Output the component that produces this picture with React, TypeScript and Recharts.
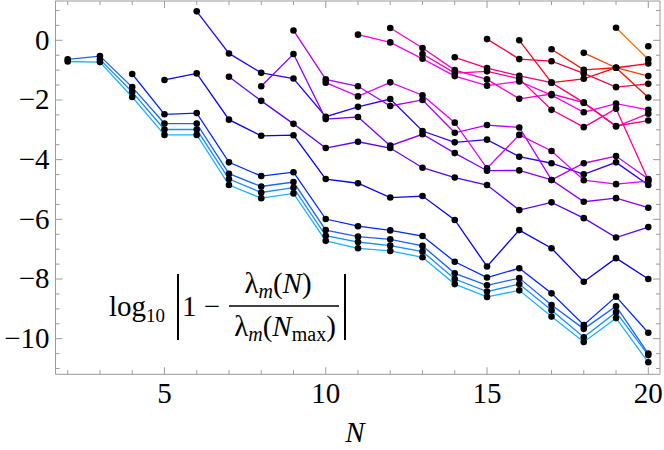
import React from 'react'
import { LineChart, Line, XAxis, YAxis } from 'recharts'

// N = 2 .. 20, one slot per N (null = eigenvalue not present yet)
const N_VALUES = [2, 3, 4, 5, 6, 7, 8, 9, 10, 11, 12, 13, 14, 15, 16, 17, 18, 19, 20]

const S1 = [-0.71, -0.73, -1.9, -3.17, -3.17, -4.85, -5.29, -5.13, -6.72, -6.97, -7.06, -7.27, -8.17, -8.6, -8.38, -9.26, -10.11, -9.31, -10.79]
const S2 = [null, -0.64, -1.73, -2.99, -2.99, -4.65, -5.1, -4.94, -6.55, -6.76, -6.88, -7.08, -8.0, -8.42, -8.17, -9.05, -9.95, -9.11, -10.55]
const S3 = [-0.64, -0.53, -1.57, -2.79, -2.79, -4.47, -4.9, -4.75, -6.36, -6.58, -6.67, -6.89, -7.81, -8.21, -7.97, -8.87, -9.67, -8.91, -10.5]
const S4 = [null, null, -1.13, -2.48, -2.44, -4.09, -4.55, -4.42, -5.99, -6.23, -6.37, -6.56, -7.42, -7.95, -7.64, -8.48, -9.54, -8.59, -9.8]
const S5 = [null, null, null, -1.33, -1.11, -2.66, -3.2, -3.18, -4.65, -4.79, -5.27, -5.22, -6.02, -7.58, -6.36, -6.97, -8.09, -7.3, -8.0]
const S6 = [null, null, null, null, 0.97, -0.44, -1.09, -1.28, -2.56, -2.23, -1.97, -3.04, -3.42, -3.33, -3.9, -4.12, -4.49, -4.09, -4.85]
const S7 = [null, null, null, null, null, -1.22, -2.03, -2.8, -3.61, -3.4, -3.61, -4.27, -4.6, -4.85, -5.69, -5.43, -5.96, -6.61, -6.26]
const S8 = [null, null, null, null, null, null, -1.54, -0.46, -2.64, -2.57, -3.53, -3.15, -3.78, -4.37, -4.36, -4.68, -5.41, -5.29, -5.61]
const S9 = [null, null, null, null, null, null, null, 0.33, -1.31, -1.54, -2.2, -2.0, -3.1, -2.84, -2.92, -4.68, -4.12, -3.88, -4.65]
const S10 = [null, null, null, null, null, null, null, null, -1.42, -1.88, -1.41, -1.84, -2.76, -4.29, -3.17, -3.71, -4.69, -4.82, -4.72]
const S11 = [null, null, null, null, null, null, null, null, null, 0.19, -0.07, -0.62, -1.2, -1.52, -1.38, -1.84, -2.41, -2.12, -2.33]
const S12 = [null, null, null, null, null, null, null, null, null, null, 0.41, -0.26, -1.0, -1.31, -1.96, -1.8, -2.09, -2.89, -2.46]
const S13 = [null, null, null, null, null, null, null, null, null, null, null, -0.46, -1.1, -1.04, -1.29, -2.33, -2.91, -2.29, -4.68]
const S14 = [null, null, null, null, null, null, null, null, null, null, null, null, -0.57, -0.93, -1.19, -1.42, -2.09, -2.87, -2.69]
const S15 = [null, null, null, null, null, null, null, null, null, null, null, null, null, 0.04, -0.63, -0.7, -1.11, -1.57, -1.46]
const S16 = [null, null, null, null, null, null, null, null, null, null, null, null, null, null, 0.0, -1.42, -1.29, -0.92, -0.78]
const S17 = [null, null, null, null, null, null, null, null, null, null, null, null, null, null, null, -0.3, -0.99, -0.92, -1.92]
const S18 = [null, null, null, null, null, null, null, null, null, null, null, null, null, null, null, null, -0.42, -0.92, -1.2]
const S19 = [null, null, null, null, null, null, null, null, null, null, null, null, null, null, null, null, null, 0.42, -0.64]
const S20 = [null, null, null, null, null, null, null, null, null, null, null, null, null, null, null, null, null, null, -0.2]

const SERIES = [S1, S2, S3, S4, S5, S6, S7, S8, S9, S10, S11, S12, S13, S14, S15, S16, S17, S18, S19, S20]

const X_TICKS = [2, 3, 4, 5, 6, 7, 8, 9, 10, 11, 12, 13, 14, 15, 16, 17, 18, 19, 20]
const X_LABELS = [5, 10, 15, 20]
const Y_TICKS = [-11, -10.5, -10, -9.5, -9, -8.5, -8, -7.5, -7, -6.5, -6, -5.5, -5, -4.5, -4, -3.5, -3, -2.5, -2, -1.5, -1, -0.5, 0, 0.5, 1]
const Y_LABELS = [-10, -8, -6, -4, -2, 0]

const FRAME = '#9a9a9a'
const SERIF = '"Liberation Serif", "Times New Roman", serif'
const FONT = 29

const rows = N_VALUES.map((n, i) => {
  const row: Record<string, number | null> = { N: n }
  SERIES.forEach((s, k) => {
    row['s' + (k + 1)] = s[i]
  })
  return row
})

// hue runs from sky blue (lowest m) through violet and magenta to orange
const seriesColor = (k: number) => {
  const h = (200 + (k * 195) / (SERIES.length - 1)) % 360
  const l = k < 3 ? 55 : 50
  return `hsl(${h}, 100%, ${l}%)`
}

const fmt = (v: number) => (v < 0 ? `\u2212${Math.abs(v)}` : `${v}`)

const BottomTick = (props: any) => {
  const { x, y, payload } = props
  const major = X_LABELS.includes(payload.value)
  return (
    <g>
      <line x1={x} x2={x} y1={y} y2={y - (major ? 7 : 4)} stroke={FRAME} />
      {major && (
        <text x={x} y={y + 29} textAnchor="middle" fontFamily={SERIF} fontSize={FONT} fill="#000">
          {payload.value}
        </text>
      )}
    </g>
  )
}

const TopTick = (props: any) => {
  const { x, y, payload } = props
  const major = X_LABELS.includes(payload.value)
  return <line x1={x} x2={x} y1={y} y2={y + (major ? 7 : 4)} stroke={FRAME} />
}

const LeftTick = (props: any) => {
  const { x, y, payload } = props
  const major = Y_LABELS.includes(payload.value)
  return (
    <g>
      <line x1={x} x2={x + (major ? 7 : 4)} y1={y} y2={y} stroke={FRAME} />
      {major && (
        <text x={x - 6} y={y} dy="0.32em" textAnchor="end" fontFamily={SERIF} fontSize={FONT} fill="#000">
          {fmt(payload.value)}
        </text>
      )}
    </g>
  )
}

const RightTick = (props: any) => {
  const { x, y, payload } = props
  const major = Y_LABELS.includes(payload.value)
  return <line x1={x} x2={x - (major ? 7 : 4)} y1={y} y2={y} stroke={FRAME} />
}

export default function App() {
  return (
    <div style={{ position: 'absolute', left: 0, top: 0, width: 664, height: 450, background: '#fff' }}>
      <LineChart width={664} height={450} data={rows} margin={{ top: 0, right: 3, bottom: 0, left: 0 }}>
        <XAxis
          xAxisId="bottom"
          dataKey="N"
          type="number"
          domain={[1.622, 20.363]}
          allowDataOverflow
          ticks={X_TICKS}
          interval={0}
          height={75.7}
          tickSize={0}
          tickMargin={0}
          tickLine={false}
          axisLine={{ stroke: FRAME }}
          tick={(p: any) => <BottomTick {...p} />}
        />
        <XAxis
          xAxisId="top"
          orientation="top"
          dataKey="N"
          type="number"
          domain={[1.622, 20.363]}
          allowDataOverflow
          ticks={X_TICKS}
          interval={0}
          height={1}
          tickSize={0}
          tickMargin={0}
          tickLine={false}
          axisLine={{ stroke: FRAME }}
          tick={(p: any) => <TopTick {...p} />}
        />
        <YAxis
          yAxisId="left"
          type="number"
          domain={[-11.193, 1.317]}
          allowDataOverflow
          ticks={Y_TICKS}
          interval={0}
          width={55.5}
          tickSize={0}
          tickMargin={0}
          tickLine={false}
          axisLine={{ stroke: FRAME }}
          tick={(p: any) => <LeftTick {...p} />}
        />
        <YAxis
          yAxisId="right"
          orientation="right"
          type="number"
          domain={[-11.193, 1.317]}
          allowDataOverflow
          ticks={Y_TICKS}
          interval={0}
          width={1}
          tickSize={0}
          tickMargin={0}
          tickLine={false}
          axisLine={{ stroke: FRAME }}
          tick={(p: any) => <RightTick {...p} />}
        />

        {SERIES.map((_, k) => (
          <Line
            key={'line' + k}
            xAxisId="bottom"
            yAxisId="left"
            type="linear"
            dataKey={'s' + (k + 1)}
            stroke={seriesColor(k)}
            strokeWidth={1.3}
            dot={false}
            activeDot={false}
            isAnimationActive={false}
          />
        ))}
        {/* points drawn after all lines so they sit on top */}
        {SERIES.map((_, k) => (
          <Line
            key={'dots' + k}
            xAxisId="bottom"
            yAxisId="left"
            type="linear"
            dataKey={'s' + (k + 1)}
            stroke="none"
            dot={{ r: 3.3, fill: '#000', stroke: '#000', strokeWidth: 0 }}
            activeDot={false}
            isAnimationActive={false}
          />
        ))}
      </LineChart>

      <svg width={664} height={450} style={{ position: 'absolute', left: 0, top: 0, pointerEvents: 'none' }}>
        <g fontFamily={SERIF} fill="#000">
          <text x={109} y={316} fontSize={FONT}>
            log<tspan fontSize={19} dy={6}>10</tspan>
          </text>
          <line x1={178} x2={178} y1={274} y2={340} stroke="#000" strokeWidth={2} />
          <text x={182} y={316} fontSize={FONT}>
            1 {'\u2212'}
          </text>
          <text x={278} y={293} fontSize={FONT} textAnchor="middle">
            λ<tspan fontStyle="italic" fontSize={20} dy={5}>m</tspan>
            <tspan dy={-5}>(</tspan>
            <tspan fontStyle="italic">N</tspan>)
          </text>
          <line x1={229} x2={339} y1={306} y2={306} stroke="#000" strokeWidth={1.3} />
          <text x={285} y={336} fontSize={FONT} textAnchor="middle">
            λ<tspan fontStyle="italic" fontSize={20} dy={5}>m</tspan>
            <tspan dy={-5}>(</tspan>
            <tspan fontStyle="italic">N</tspan>
            <tspan fontSize={20} dy={5}>max</tspan>
            <tspan dy={-5}>)</tspan>
          </text>
          <line x1={345} x2={345} y1={274} y2={340} stroke="#000" strokeWidth={2} />
          <text x={355} y={442} fontSize={FONT} fontStyle="italic" textAnchor="middle">
            N
          </text>
        </g>
      </svg>
    </div>
  )
}
